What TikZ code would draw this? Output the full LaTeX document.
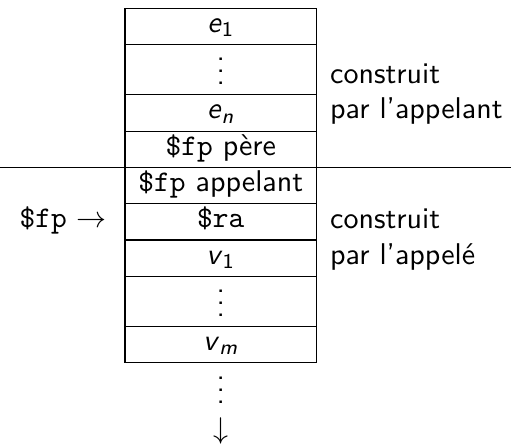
\documentclass[tikz,border=0pt]{standalone}
\usepackage{amsmath}
\usetikzlibrary{positioning}
\renewcommand{\familydefault}{\sfdefault}
\newcommand{\cellvar}[2]{\textit{#1}$_{\text{#2}}$}
\newcommand{\stackdots}{\vbox{\baselineskip4pt\lineskiplimit0pt\hbox{.}\hbox{.}\hbox{.}}}

\begin{document}
\begin{tikzpicture}[cell/.style = {draw, minimum width=63.9pt, text height=8pt, text depth=4.1pt, inner sep=0pt, outer sep=0pt},
                    gap/.style = {draw, minimum width=63.9pt, text height=13.3pt, text depth=3.4pt, inner sep=0pt, outer sep=0pt},
                    side/.style = {inner sep=0pt}]
                \useasboundingbox (0,0) rectangle (170.33pt,-148pt);
                \coordinate (left) at (0,0);
                \coordinate (right) at (170.33pt,0);

                \node[cell, anchor=north] (e1) at (73.61pt,-2.8pt) {\cellvar{e}{1}};
                \node[gap, below=0pt of e1] (edots) {\stackdots};
                \node[cell, below=0pt of edots] (en) {\cellvar{e}{\itshape n}};
                \node[cell, below=0pt of en] (pere) {\texttt{\$fp} p\`ere};
                \node[cell, below=0pt of pere] (appelant) {\texttt{\$fp} appelant};
                \node[cell, below=0pt of appelant] (ra) {\texttt{\$ra}};
                \node[cell, below=0pt of ra] (v1) {\cellvar{v}{1}};
                \node[gap, below=0pt of v1] (vdots) {\stackdots};
                \node[cell, below=0pt of vdots] (vm) {\cellvar{v}{\itshape m}};

                \draw (pere.south -| left) -- (pere.south -| right);

                \node[side, anchor=base west] (par1) at ([xshift=4.3pt]en.base east) {par l'appelant};
                \node[side, anchor=base west] (cons1) at ([yshift=11.7pt]par1.base west) {construit};
                \node[side, anchor=base west] (par2) at ([xshift=4.3pt]v1.base east) {par l'appel\'e};
                \node[side, anchor=base west] (cons2) at ([yshift=11.7pt]par2.base west) {construit};
                \node[side, anchor=base east] (fp) at ([xshift=-5.8pt]ra.base west) {\texttt{\$fp} $\rightarrow$};

                \node[side, anchor=base] (more) at ([yshift=-13.5pt]vm.south) {\stackdots};
                \node[side, anchor=base] (down) at ([yshift=-11.8pt]more.base) {$\downarrow$};
            \end{tikzpicture}
\end{document}
